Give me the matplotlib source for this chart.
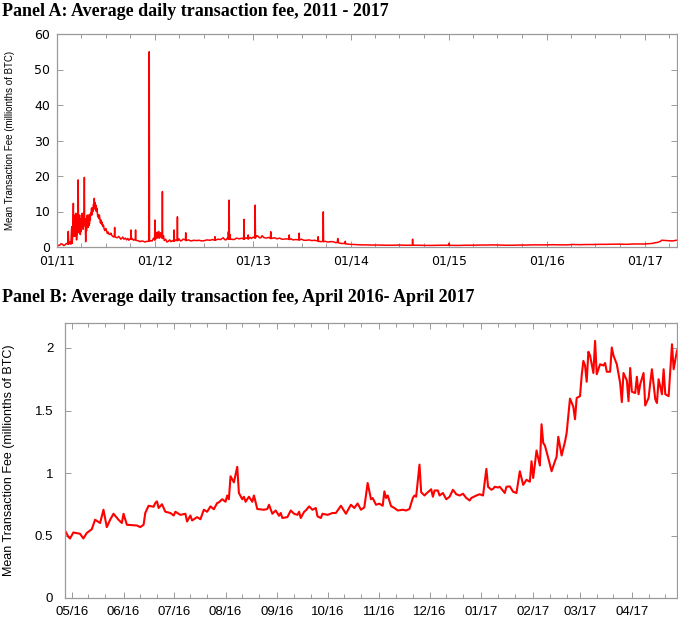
import matplotlib
matplotlib.use("Agg")
import matplotlib.pyplot as plt
import matplotlib.dates as mdates
import numpy as np
import pandas as pd
from matplotlib.ticker import FuncFormatter

# ---------------- Data ----------------
# Panel A: (day offset from 2011-01-01, mean fee in millionths of BTC)
start_a = "2011-01-01"
fee_a_2011 = [
    (0, 0.6), (5, 0.4), (10, 0.5), (15, 0.9), (20, 0.8), (25, 0.4), (30, 0.6), (35, 1.0),
    (40, 0.8), (42, 4.4), (44, 0.8), (47, 1.2), (50, 1.5), (52, 0.8), (53, 3.0), (55, 5.7),
    (56, 1.0), (58, 2.5), (60, 8.0), (61, 12.3), (62, 3.0), (63, 5.0), (64, 9.0), (65, 4.9),
    (66, 7.5), (67, 3.0), (68, 8.0), (69, 5.0), (70, 9.5), (71, 4.0), (72, 7.0), (73, 2.0),
    (74, 6.0), (75, 3.5), (76, 9.0), (77, 5.0), (78, 10.0), (79, 18.9), (80, 6.0), (81, 8.5),
    (82, 4.0), (83, 9.0), (84, 5.0), (85, 6.0), (86, 8.0), (87, 3.5), (88, 7.0), (89, 4.3),
    (90, 6.5), (91, 9.0), (92, 8.0), (93, 5.5), (94, 9.5), (95, 6.0), (96, 8.5), (97, 5.0),
    (98, 7.0), (99, 9.5), (100, 6.0), (101, 10.0), (102, 19.6), (103, 7.5), (104, 6.0),
    (105, 8.0), (106, 4.0), (107, 1.5), (108, 5.0), (109, 7.0), (110, 4.5), (111, 8.5),
    (112, 6.0), (113, 9.0), (114, 6.5), (115, 8.0), (116, 5.5), (117, 7.1), (118, 9.0),
    (119, 6.0), (120, 8.0), (121, 6.5), (122, 9.0), (124, 7.5), (125, 9.5), (127, 9.1),
    (129, 11.0), (130, 9.0), (132, 10.9), (134, 10.0), (136, 12.0), (138, 11.0), (139, 13.7),
    (140, 12.0), (142, 12.5), (143, 10.5), (145, 11.8), (147, 10.0), (148, 11.0), (150, 10.0),
    (152, 8.5), (154, 9.1), (156, 8.0), (158, 9.0), (160, 8.0), (162, 6.8), (164, 7.6),
    (166, 6.5), (168, 7.0), (170, 5.8), (173, 6.2), (176, 5.0), (179, 4.6), (182, 5.2),
    (185, 4.5), (188, 3.8), (191, 4.2), (194, 3.6), (198, 3.5), (201, 3.9), (204, 3.3),
    (208, 3.0), (212, 2.8), (214, 3.2), (215, 5.5), (216, 2.9), (220, 2.7), (225, 2.6),
    (230, 3.0), (235, 2.5), (238, 2.2), (241, 2.4), (245, 2.8), (250, 2.2), (255, 2.5),
    (260, 2.0), (264, 2.4), (268, 1.9), (272, 2.3), (275, 2.2), (276, 4.8), (277, 2.2),
    (280, 2.4), (285, 1.9), (288, 2.1), (292, 2.0), (293, 4.8), (294, 1.9), (300, 1.8),
    (305, 1.7), (310, 1.5), (315, 1.7), (322, 1.6), (328, 1.4), (335, 1.6), (342, 1.6),
    (343, 28.0), (344, 55.0), (345, 1.6),
]
fee_a_2012_13 = [
    (350, 1.8), (355, 1.7), (360, 2.5), (364, 2.0), (365, 7.6), (366, 2.0), (368, 4.0),
    (370, 2.4), (372, 2.8), (374, 4.2), (376, 2.5), (378, 3.5), (380, 4.4), (382, 2.5),
    (384, 3.0), (386, 4.0), (388, 3.8), (390, 2.6), (392, 2.5), (393, 15.6), (394, 2.4),
    (397, 3.2), (400, 1.8), (405, 2.2), (410, 1.4), (415, 1.6), (420, 2.0), (425, 1.5),
    (430, 1.8), (435, 1.6), (436, 4.8), (437, 1.6), (442, 2.0), (448, 1.8), (449, 8.5),
    (450, 1.8), (455, 2.3), (460, 1.7), (465, 1.8), (470, 2.2), (479, 2.0), (480, 4.0),
    (481, 1.8), (490, 2.0), (500, 1.7), (510, 1.9), (520, 1.8), (530, 1.9), (540, 1.7),
    (549, 1.8), (560, 2.0), (570, 1.9), (580, 2.1), (588, 1.9), (589, 2.9), (590, 1.9),
    (600, 2.2), (610, 2.1), (620, 2.6), (625, 2.1), (630, 2.0), (635, 2.5), (638, 2.2),
    (639, 4.3), (640, 2.4), (641, 2.5), (642, 13.2), (643, 2.2), (645, 3.5), (647, 2.2),
    (660, 2.1), (670, 2.5), (680, 2.3), (690, 2.5), (696, 2.2), (697, 7.8), (698, 2.2),
    (705, 2.6), (712, 2.3), (713, 3.4), (714, 2.3), (720, 2.7), (725, 2.4), (732, 2.8),
    (738, 2.5), (739, 11.8), (740, 2.6), (745, 3.2), (750, 3.0), (755, 2.6), (760, 2.6),
    (765, 3.2), (770, 2.7), (780, 2.5), (790, 2.7), (796, 2.4), (797, 4.3), (798, 2.4),
    (805, 2.5), (812, 2.6), (820, 2.3), (830, 2.5), (838, 2.2), (845, 2.2), (855, 2.3),
    (865, 2.2), (866, 3.4), (867, 2.1), (873, 2.3), (880, 2.0), (890, 2.1), (902, 2.0),
    (903, 3.9), (904, 2.0), (912, 2.2), (920, 1.9), (930, 1.9), (940, 2.0), (950, 1.8),
    (960, 1.9), (973, 1.7), (974, 2.9), (975, 1.6), (985, 1.5), (992, 1.6), (993, 9.9),
    (994, 1.5), (1000, 1.6), (1010, 1.4), (1020, 1.5), (1030, 1.5), (1040, 1.2),
    (1045, 1.3), (1047, 2.4), (1049, 1.2), (1060, 1.0), (1074, 1.0), (1075, 1.6),
    (1076, 0.9), (1092, 0.75),
]
fee_a_2014_17 = [
    (1110, 0.7), (1130, 0.6), (1150, 0.6), (1175, 0.55), (1200, 0.55), (1225, 0.5),
    (1250, 0.5), (1275, 0.55), (1300, 0.5), (1325, 0.5), (1326, 2.2), (1327, 0.5),
    (1350, 0.5), (1375, 0.45), (1400, 0.45), (1430, 0.5), (1460, 0.5), (1461, 1.0),
    (1462, 0.5), (1480, 0.45), (1500, 0.45), (1525, 0.5), (1550, 0.5), (1575, 0.55),
    (1600, 0.55), (1625, 0.6), (1650, 0.55), (1675, 0.5), (1700, 0.5), (1725, 0.55),
    (1750, 0.55), (1775, 0.6), (1800, 0.6), (1826, 0.6), (1850, 0.65), (1875, 0.6),
    (1900, 0.6), (1925, 0.7), (1950, 0.65), (1975, 0.7), (2000, 0.7), (2025, 0.75),
    (2050, 0.75), (2075, 0.8), (2100, 0.8), (2125, 0.75), (2150, 0.85), (2175, 0.85),
    (2192, 0.85), (2210, 0.95), (2220, 1.0), (2230, 1.2), (2240, 1.3), (2250, 1.6),
    (2255, 1.9), (2265, 1.85), (2280, 1.8), (2295, 1.7), (2310, 1.9),
]

# Panel B: day offsets from 2016-04-27 and mean fee
start_b = "2016-04-27"
days_b = [0, 2, 3, 5, 9, 11, 13, 16, 18, 21, 23, 25, 27, 29, 32, 34, 35, 37, 43, 45, 47,
          48, 50, 53, 54, 55, 56, 58, 60, 63, 65, 66, 69, 72, 73, 75, 76, 79, 81, 83, 85,
          87, 89, 91, 92, 94, 96, 97, 98, 99, 101, 103, 104, 106, 107, 108, 110, 112, 113,
          115, 119, 121, 122, 124, 126, 128, 129, 130, 133, 135, 137, 139, 140, 141, 143,
          144, 146, 148, 150, 151, 153, 154, 157, 160, 162, 165, 168, 171, 173, 175, 177,
          179, 181, 183, 184, 186, 188, 190, 191, 192, 193, 195, 197, 199, 202, 204, 206,
          208, 209, 210, 212, 213, 215, 216, 219, 220, 221, 223, 224, 226, 228, 230, 232,
          234, 236, 238, 240, 242, 243, 246, 248, 250, 252, 253, 255, 256, 257, 259, 260,
          261, 263, 264, 266, 268, 270, 272, 274, 276, 278, 279, 280, 282, 284, 285, 286,
          287, 289, 291, 293, 294, 295, 297, 299, 300, 302, 304, 305, 306, 308, 309, 310,
          311, 312, 313, 314, 316, 317, 318, 320, 322, 323, 324, 326, 327, 328, 330, 332,
          333, 334, 336, 337, 338, 339, 341, 342, 343, 344, 346, 347, 349, 350, 351, 353,
          354, 355, 357, 358, 359, 361, 363, 364, 366]
fee_b = [0.54, 0.49, 0.476, 0.524, 0.514, 0.476, 0.52, 0.55, 0.626, 0.60, 0.706, 0.567,
         0.626, 0.674, 0.626, 0.60, 0.674, 0.586, 0.58, 0.567, 0.586, 0.68, 0.738, 0.73,
         0.76, 0.773, 0.72, 0.75, 0.69, 0.68, 0.66, 0.69, 0.665, 0.674, 0.612, 0.66, 0.62,
         0.647, 0.63, 0.706, 0.69, 0.733, 0.71, 0.76, 0.765, 0.79, 0.77, 0.82, 0.79, 0.974,
         0.925, 1.049, 0.84, 0.79, 0.81, 0.77, 0.81, 0.77, 0.82, 0.712, 0.706, 0.712,
         0.746, 0.674, 0.70, 0.658, 0.68, 0.64, 0.647, 0.70, 0.674, 0.665, 0.69, 0.64,
         0.69, 0.70, 0.733, 0.706, 0.72, 0.653, 0.64, 0.674, 0.665, 0.68, 0.68, 0.738,
         0.674, 0.746, 0.72, 0.756, 0.706, 0.725, 0.92, 0.79, 0.80, 0.746, 0.755, 0.738,
         0.853, 0.80, 0.82, 0.735, 0.72, 0.70, 0.706, 0.70, 0.712, 0.80, 0.82, 0.81,
         1.067, 0.846, 0.82, 0.834, 0.87, 0.81, 0.86, 0.86, 0.82, 0.84, 0.79, 0.81, 0.866,
         0.83, 0.82, 0.834, 0.80, 0.78, 0.80, 0.82, 0.83, 0.82, 1.033, 0.89, 0.866, 0.873,
         0.89, 0.884, 0.89, 0.873, 0.84, 0.89, 0.893, 0.85, 0.84, 1.014, 0.905, 0.946,
         0.93, 1.094, 0.96, 1.18, 1.06, 1.39, 1.24, 1.22, 1.12, 1.014, 1.094, 1.13, 1.29,
         1.14, 1.25, 1.32, 1.595, 1.53, 1.43, 1.60, 1.615, 1.78, 1.897, 1.86, 1.73, 1.97,
         1.94, 1.80, 2.057, 1.79, 1.87, 1.86, 1.88, 1.81, 1.81, 2.004, 1.94, 1.87, 1.72,
         1.567, 1.80, 1.74, 1.575, 1.84, 1.65, 1.64, 1.77, 1.63, 1.71, 1.80, 1.54, 1.60,
         1.72, 1.83, 1.59, 1.56, 1.75, 1.63, 1.83, 1.63, 1.615, 2.03, 1.83, 1.98]

title_a = "Panel A: Average daily transaction fee, 2011 - 2017"
title_b = "Panel B: Average daily transaction fee, April 2016- April 2017"
ylabel = "Mean Transaction Fee (millionths of BTC)"
yticks_a = [0, 10, 20, 30, 40, 50, 60]
yticks_b = [0, 0.5, 1, 1.5, 2]

pts_a = fee_a_2011 + fee_a_2012_13 + fee_a_2014_17
days_a = [d for d, _ in pts_a]
fee_a = [v for _, v in pts_a]
dates_a = pd.Timestamp(start_a) + pd.to_timedelta(days_a, unit="D")
dates_b = pd.Timestamp(start_b) + pd.to_timedelta(days_b, unit="D")

# ---------------- Figure ----------------
W, H = 678, 617
fig = plt.figure(figsize=(W / 100, H / 100), dpi=100)

spine_col = "#9a9a9a"

def px_axes(l, t, r, b):
    return fig.add_axes([l / W, 1 - b / H, (r - l) / W, (b - t) / H])

def style(ax):
    for s in ax.spines.values():
        s.set_color(spine_col)
        s.set_linewidth(0.9)
    ax.tick_params(which="both", direction="in", top=True, right=True,
                   color=spine_col, width=0.7)
    ax.tick_params(which="major", length=4)
    ax.tick_params(which="minor", length=3)

# Panel A
axA = px_axes(57, 34, 677, 247)
axA.plot(dates_a, fee_a, color="#ff0000", lw=1.1)
axA.set_xlim(pd.Timestamp("2011-01-01"), pd.Timestamp("2017-05-01"))
axA.set_ylim(0, 60)
axA.set_yticks(yticks_a)
axA.xaxis.set_major_locator(mdates.YearLocator())
axA.xaxis.set_major_formatter(mdates.DateFormatter("%m/%y"))
axA.xaxis.set_minor_locator(mdates.MonthLocator(bymonth=[4, 7, 10]))
style(axA)
axA.tick_params(axis="x", which="major", labelsize=9, pad=5.5)
axA.tick_params(axis="y", which="major", labelsize=9, pad=5)
for lab in axA.get_xticklabels() + axA.get_yticklabels():
    lab.set_family("DejaVu Sans")
axA.set_ylabel(ylabel, fontsize=7, family="Liberation Sans")
axA.yaxis.set_label_coords(-0.068, 0.5)

# Panel B
axB = px_axes(65, 323, 677, 598)
axB.plot(dates_b, fee_b, color="#ff0000", lw=1.5)
axB.set_xlim(pd.Timestamp("2016-04-27"), pd.Timestamp("2017-04-28"))
axB.set_ylim(0, 2.2)
axB.set_yticks(yticks_b)
axB.yaxis.set_major_formatter(FuncFormatter(lambda v, p: f"{v:g}"))
axB.xaxis.set_major_locator(mdates.MonthLocator())
axB.xaxis.set_major_formatter(mdates.DateFormatter("%m/%y"))
axB.xaxis.set_minor_locator(mdates.DayLocator(bymonthday=[11, 21]))
style(axB)
axB.tick_params(axis="x", which="major", labelsize=9.5, pad=6)
axB.tick_params(axis="y", which="major", labelsize=9.5, pad=8.5)
for lab in axB.get_xticklabels() + axB.get_yticklabels():
    lab.set_family("Liberation Sans")
axB.set_ylabel(ylabel, fontsize=9, family="Liberation Sans")
axB.yaxis.set_label_coords(-0.082, 0.5)

# Titles
fig.text(2 / W, 1 - 11 / H, title_a, fontsize=13, fontweight="bold",
         family="Liberation Serif", ha="left", va="center")
fig.text(2 / W, 1 - 297 / H, title_b, fontsize=13, fontweight="bold",
         family="Liberation Serif", ha="left", va="center")

fig.savefig("out.png", dpi=100)
